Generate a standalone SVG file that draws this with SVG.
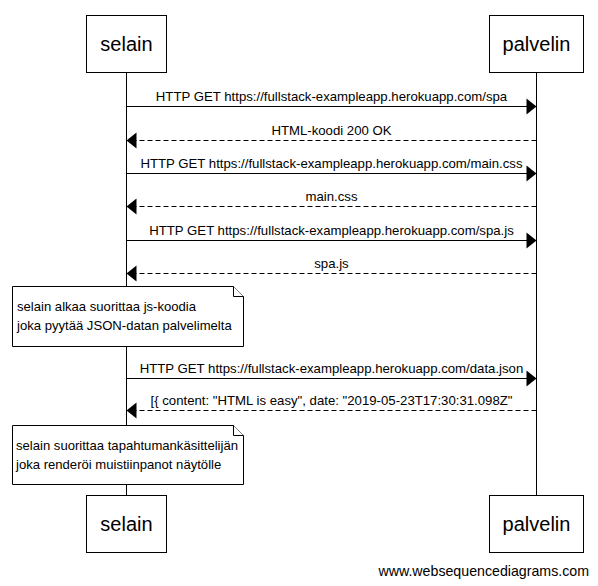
<svg xmlns="http://www.w3.org/2000/svg" width="598" height="586" viewBox="0 0 598 586">
  <style>
    .box { fill: #fff; stroke: #000; stroke-width: 1; }
    .life { stroke: #000; stroke-width: 1; }
    .actor { font-family: "Liberation Sans", Arial, sans-serif; font-size: 20px; text-anchor: middle; fill: #000; }
    .lbl { font-family: "Liberation Sans", Arial, sans-serif; font-size: 13.2px; text-anchor: middle; fill: #000; }
    .note { font-family: "Liberation Sans", Arial, sans-serif; font-size: 13.1px; fill: #000; }
    .msg { stroke: #000; stroke-width: 1; fill: none; }
    .ret { stroke: #000; stroke-width: 1; fill: none; stroke-dasharray: 5 3; }
    .head { fill: #000; }
    .mark { font-family: "Liberation Sans", Arial, sans-serif; font-size: 14.2px; fill: #000; }
  </style>
  <rect width="598" height="586" fill="#fff"/>

  <!-- lifelines -->
  <g id="lifelines">
    <line class="life" x1="126.5" y1="72" x2="126.5" y2="495"/>
    <line class="life" x1="536.5" y1="72" x2="536.5" y2="495"/>
  </g>

  <!-- participants -->
  <g id="selain-top">
    <rect class="box" x="86.5" y="15.5" width="80" height="57"/>
    <text class="actor" x="126.5" y="51">selain</text>
  </g>
  <g id="palvelin-top">
    <rect class="box" x="489.5" y="15.5" width="94" height="57"/>
    <text class="actor" x="536.5" y="51">palvelin</text>
  </g>
  <g id="selain-bottom">
    <rect class="box" x="86.5" y="495.5" width="80" height="57"/>
    <text class="actor" x="126.5" y="531">selain</text>
  </g>
  <g id="palvelin-bottom">
    <rect class="box" x="489.5" y="495.5" width="94" height="57"/>
    <text class="actor" x="536.5" y="531">palvelin</text>
  </g>

  <!-- messages -->
  <g id="connectors">
    <line class="msg" x1="126.5" y1="106.5" x2="527" y2="106.5"/>
    <path class="head" d="M536.5,106.5 L526.5,98.5 L526.5,114.5 Z"/>
    <text class="lbl" x="331.5" y="101">HTTP GET https://fullstack-exampleapp.herokuapp.com/spa</text>

    <line class="ret" x1="536.5" y1="140.5" x2="136" y2="140.5"/>
    <path class="head" d="M126.5,140.5 L136.5,132.5 L136.5,148.5 Z"/>
    <text class="lbl" x="331.5" y="135">HTML-koodi 200 OK</text>

    <line class="msg" x1="126.5" y1="173.5" x2="527" y2="173.5"/>
    <path class="head" d="M536.5,173.5 L526.5,165.5 L526.5,181.5 Z"/>
    <text class="lbl" x="331.5" y="168">HTTP GET https://fullstack-exampleapp.herokuapp.com/main.css</text>

    <line class="ret" x1="536.5" y1="206.5" x2="136" y2="206.5"/>
    <path class="head" d="M126.5,206.5 L136.5,198.5 L136.5,214.5 Z"/>
    <text class="lbl" x="331.5" y="201">main.css</text>

    <line class="msg" x1="126.5" y1="240.5" x2="527" y2="240.5"/>
    <path class="head" d="M536.5,240.5 L526.5,232.5 L526.5,248.5 Z"/>
    <text class="lbl" x="331.5" y="235">HTTP GET https://fullstack-exampleapp.herokuapp.com/spa.js</text>

    <line class="ret" x1="536.5" y1="273.5" x2="136" y2="273.5"/>
    <path class="head" d="M126.5,273.5 L136.5,265.5 L136.5,281.5 Z"/>
    <text class="lbl" x="331.5" y="268">spa.js</text>

    <line class="msg" x1="126.5" y1="378.5" x2="527" y2="378.5"/>
    <path class="head" d="M536.5,378.5 L526.5,370.5 L526.5,386.5 Z"/>
    <text class="lbl" x="331.5" y="373">HTTP GET https://fullstack-exampleapp.herokuapp.com/data.json</text>

    <line class="ret" x1="536.5" y1="410.5" x2="136" y2="410.5"/>
    <path class="head" d="M126.5,410.5 L136.5,402.5 L136.5,418.5 Z"/>
    <text class="lbl" x="331.5" y="405">[{ content: "HTML is easy", date: "2019-05-23T17:30:31.098Z"</text>
  </g>

  <!-- notes -->
  <g id="note-js">
    <path class="box" d="M12.5,286.5 H233.5 L243.5,296.5 V346.5 H12.5 Z"/>
    <path class="box" d="M233.5,286.5 V296.5 H243.5" fill="none"/>
    <text class="note" x="17" y="311">selain alkaa suorittaa js-koodia</text>
    <text class="note" x="17" y="330">joka pyytää JSON-datan palvelimelta</text>
  </g>
  <g id="note-render">
    <path class="box" d="M12.5,425.5 H233.5 L243.5,435.5 V484.5 H12.5 Z"/>
    <path class="box" d="M233.5,425.5 V435.5 H243.5" fill="none"/>
    <text class="note" x="16" y="450">selain suorittaa tapahtumankäsittelijän</text>
    <text class="note" x="16" y="469">joka renderöi muistiinpanot näytölle</text>
  </g>

  <text class="mark" x="589" y="576" text-anchor="end">www.websequencediagrams.com</text>
</svg>
